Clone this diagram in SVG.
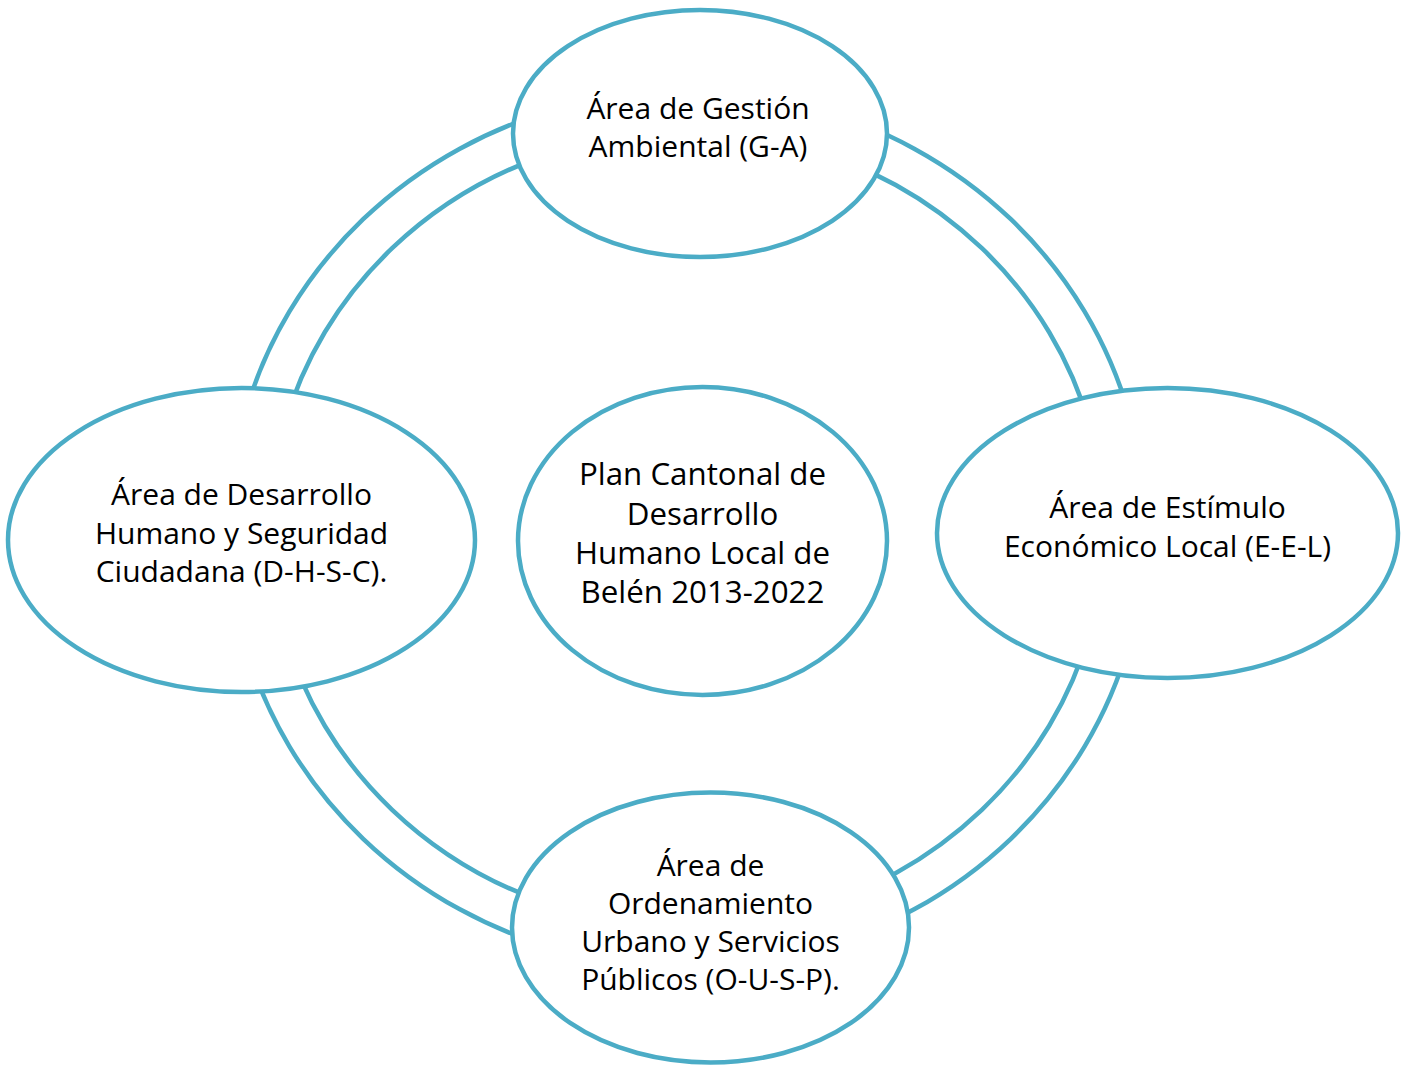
<svg xmlns="http://www.w3.org/2000/svg" width="1403" height="1065" viewBox="0 0 1403 1065">
<style>
.ring{fill:none;stroke:#4BACC6;stroke-width:4.5}
.node{fill:#FFFFFF;stroke:#4BACC6;stroke-width:4.5}
.lbl{font-family:"Open Sans","Liberation Sans",sans-serif;font-size:30px;fill:#000000;text-anchor:middle}
.big{font-size:31.3px}
</style>
<rect width="1403" height="1065" fill="#FFFFFF"/>
<g id="connectors">
<path class="ring" d="M244.6,415.6 A458,438 0 0 1 568.5,105.9 M284.2,426.2 A417,397 0 0 1 579.1,145.5"/>
<path class="ring" d="M805.5,105.9 A458,438 0 0 1 1129.4,415.6 M794.9,145.5 A417,397 0 0 1 1089.8,426.2"/>
<path class="ring" d="M1129.4,642.4 A458,438 0 0 1 805.5,952.1 M1089.8,631.8 A417,397 0 0 1 794.9,912.5"/>
<path class="ring" d="M568.5,952.1 A458,438 0 0 1 244.6,642.4 M579.1,912.5 A417,397 0 0 1 284.2,631.8"/>
</g>
<g id="node-center">
<ellipse class="node" cx="702.5" cy="541" rx="184.5" ry="154"/>
<text class="lbl big" x="702.5" y="485">Plan Cantonal de</text>
<text class="lbl big" x="702.5" y="524.5">Desarrollo</text>
<text class="lbl big" x="702.5" y="564">Humano Local de</text>
<text class="lbl big" x="702.5" y="603">Belén 2013-2022</text>
</g>
<g id="node-top">
<ellipse class="node" cx="700" cy="133.5" rx="187" ry="123.5"/>
<text class="lbl" x="698" y="119">Área de Gestión</text>
<text class="lbl" x="698" y="157">Ambiental (G-A)</text>
</g>
<g id="node-right">
<ellipse class="node" cx="1167.5" cy="533" rx="230.5" ry="145"/>
<text class="lbl" x="1167.5" y="518">Área de Estímulo</text>
<text class="lbl" x="1167.5" y="557">Económico Local (E-E-L)</text>
</g>
<g id="node-bottom">
<ellipse class="node" cx="710.5" cy="927.5" rx="198.5" ry="135"/>
<text class="lbl" x="710.5" y="876">Área de</text>
<text class="lbl" x="710.5" y="914">Ordenamiento</text>
<text class="lbl" x="710.5" y="952">Urbano y Servicios</text>
<text class="lbl" x="710.5" y="990">Públicos (O-U-S-P).</text>
</g>
<g id="node-left">
<ellipse class="node" cx="241.5" cy="540" rx="233.5" ry="152"/>
<text class="lbl" x="241.5" y="505">Área de Desarrollo</text>
<text class="lbl" x="241.5" y="543.5">Humano y Seguridad</text>
<text class="lbl" x="241.5" y="582">Ciudadana (D-H-S-C).</text>
</g>
</svg>
